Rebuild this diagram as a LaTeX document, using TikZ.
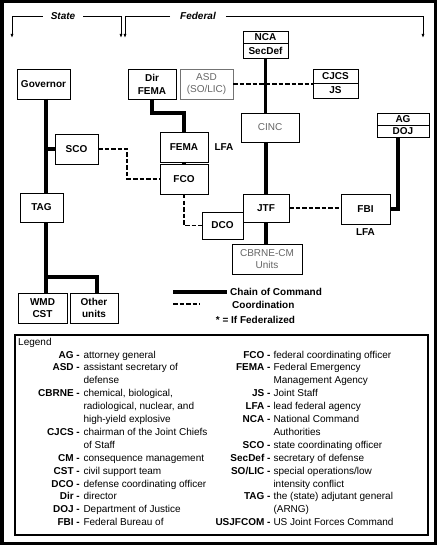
\documentclass[tikz,border=0pt]{standalone}
\usepackage{fontspec}
\setmainfont{Liberation Sans}
\usetikzlibrary{arrows.meta,positioning}

\tikzset{
  unit/.style={draw, line width=0.8pt, fill=white, font=\bfseries, align=center, inner sep=1pt, outer sep=0pt},
  staff/.style={unit, text=black!60, font=\normalfont},
  chain/.style={line width=3.8pt},
  coord/.style={line width=1.2pt, dash pattern=on 4.5pt off 2pt},
  side/.style={font=\bfseries\itshape, inner xsep=8pt},
  bracket/.style={line width=0.8pt, -{Latex[length=4pt,width=3pt]}},
  legab/.style={anchor=base east, font=\bfseries, inner sep=0pt},
  legtx/.style={anchor=base west, inner sep=0pt},
}

\begin{document}
\begin{tikzpicture}[x=1pt, y=-1pt]
    \useasboundingbox (0,0) rectangle (437,545);
    \draw[line width=3.5pt] (1.75,1.75) rectangle (435.25,543.25);

    % state / federal brackets
    \node[side] (state) at (63,16) {State};
    \node[side, inner xsep=10pt] (federal) at (198,16) {Federal};
    \coordinate (statel) at (12,38);
    \coordinate (stater) at (121,38);
    \coordinate (federall) at (125,38);
    \coordinate (federalr) at (423,38);
    \draw[bracket] (state.west) -| (statel);
    \draw[bracket] (state.east) -| (stater);
    \draw[bracket] (federal.west) -| (federall);
    \draw[bracket] (federal.east) -| (federalr);

    % units
    \node[unit, minimum width=53, minimum height=30] (governor) at (43.5,84) {Governor};
    \node[unit, minimum width=48, minimum height=30] (dirfema) at (152,84) {Dir\\[1pt]FEMA};
    \node[staff, draw=black!55, minimum width=53, minimum height=30] (asd) at (206.5,84) {ASD\\(SO/LIC)};
    \node[unit, minimum width=45, minimum height=12] (nca) at (265.5,37) {NCA};
    \node[unit, minimum width=45, minimum height=15, below=0pt of nca] (secdef) {SecDef};
    \node[unit, minimum width=45, minimum height=14] (cjcs) at (335.5,76) {CJCS};
    \node[unit, minimum width=45, minimum height=15, below=0pt of cjcs] (js) {JS};
    \node[staff, minimum width=58, minimum height=29] (cinc) at (270,127.5) {CINC};
    \node[unit, minimum width=52, minimum height=12] (ag) at (403,119) {AG};
    \node[unit, minimum width=52, minimum height=12, below=0pt of ag] (doj) {DOJ};
    \node[unit, minimum width=43, minimum height=30] (sco) at (76.5,149) {SCO};
    \node[unit, minimum width=48, minimum height=30] (fema) at (184,147) {FEMA};
    \node[font=\bfseries, right=3pt of fema] (femalfa) {LFA};
    \node[unit, minimum width=48, minimum height=30, below=2pt of fema] (fco) {FCO};
    \node[unit, minimum width=43, minimum height=29] (tag) at (41.5,207.5) {TAG};
    \node[unit, minimum width=46, minimum height=28] (jtf) at (266,208) {JTF};
    \node[unit, minimum width=49, minimum height=30] (fbi) at (365.5,209) {FBI};
    \node[font=\bfseries, below=1pt of fbi] (fbilfa) {LFA};
    \node[unit, minimum width=41, minimum height=27] (dco) at (222.5,225.5) {DCO};
    \node[staff, minimum width=70, minimum height=30] (cbrne) at (267,259) {CBRNE-CM\\Units};
    \node[unit, minimum width=49, minimum height=30] (wmd) at (42.5,308) {WMD\\CST};
    \node[unit, minimum width=48, minimum height=30, right=3pt of wmd] (other) {Other\\units};

    % chain of command
    \coordinate (fork) at (46,277);
    \draw[chain] (governor.south -| fork) -- (tag.north -| fork);
    \draw[chain] (tag.south -| fork) -- (fork) -- (fork |- wmd.north);
    \draw[chain] (fork) -| ([xshift=3pt]other.north);
    \draw[chain] (sco.west) -- (sco.west -| fork);
    \draw[chain] (dirfema.south) -- ++(0,14) -| (fema.north);
    \draw[chain] (fema.south) -- (fco.north);
    \draw[chain] (secdef.south) -- (secdef.south |- cinc.north);
    \draw[chain] (cinc.south -| jtf.north) -- (jtf.north);
    \draw[chain] (jtf.south) -- (jtf.south |- cbrne.north);
    \draw[chain] ([xshift=-5pt]doj.south) |- (fbi.east);

    % coordination
    \draw[coord] (asd.east) -- (asd.east -| cjcs.west);
    \draw[coord] (sco.east) -- ++(29,0) |- (fco.west);
    \draw[coord] (fco.south) |- (dco.west);
    \draw[coord] (jtf.east) -- (jtf.east -| fbi.west);

    % key
    \coordinate (keya) at (173,292);
    \coordinate (keyb) at (173,304);
    \coordinate (keyc) at (200,304);
    \node[anchor=west, font=\bfseries, inner xsep=3pt] (keycmd) at (227,292) {Chain of Command};
    \node[anchor=west, font=\bfseries, inner sep=0pt] (keycoord) at (232,305) {Coordination};
    \node[font=\bfseries, inner sep=0pt] (keyfed) at (255.5,320) {* = If Federalized};
    \draw[chain] (keya) -- (keya -| keycmd.west);
    \draw[coord] (keyb) -- (keyc);

    % legend
    \draw[line width=1.2pt] (15,335) rectangle (428,535);
    \node[anchor=west, inner sep=0pt] (legend) at (18,343) {Legend};
    \foreach \n/\ab in {0/AG,1/ASD,3/CBRNE,6/CJCS,8/CM,9/CST,10/DCO,11/Dir,12/DOJ,13/FBI}
      \node[legab] (la\n) at (80,{358+12.9*\n}) {\ab\ -};
    \foreach \n/\tx in {0/attorney general,1/assistant secretary of,2/defense,
        3/{chemical, biological,},4/{radiological, nuclear, and},5/high-yield explosive,
        6/chairman of the Joint Chiefs,7/of Staff,8/consequence management,
        9/civil support team,10/defense coordinating officer,11/director,
        12/Department of Justice,13/Federal Bureau of}
      \node[legtx] (lt\n) at (83.3,{358+12.9*\n}) {\tx};
    \foreach \n/\ab in {0/FCO,1/FEMA,3/JS,4/LFA,5/NCA,7/SCO,8/SecDef,9/{SO/LIC},11/TAG,13/USJFCOM}
      \node[legab] (ra\n) at (270.7,{358+12.9*\n}) {\ab\ -};
    \foreach \n/\tx in {0/federal coordinating officer,1/Federal Emergency,2/Management Agency,
        3/Joint Staff,4/lead federal agency,5/National Command,6/Authorities,
        7/state coordinating officer,8/secretary of defense,9/{special operations/low},
        10/intensity conflict,11/the (state) adjutant general,12/(ARNG),
        13/US Joint Forces Command}
      \node[legtx] (rt\n) at (273.3,{358+12.9*\n}) {\tx};
\end{tikzpicture}
\end{document}
